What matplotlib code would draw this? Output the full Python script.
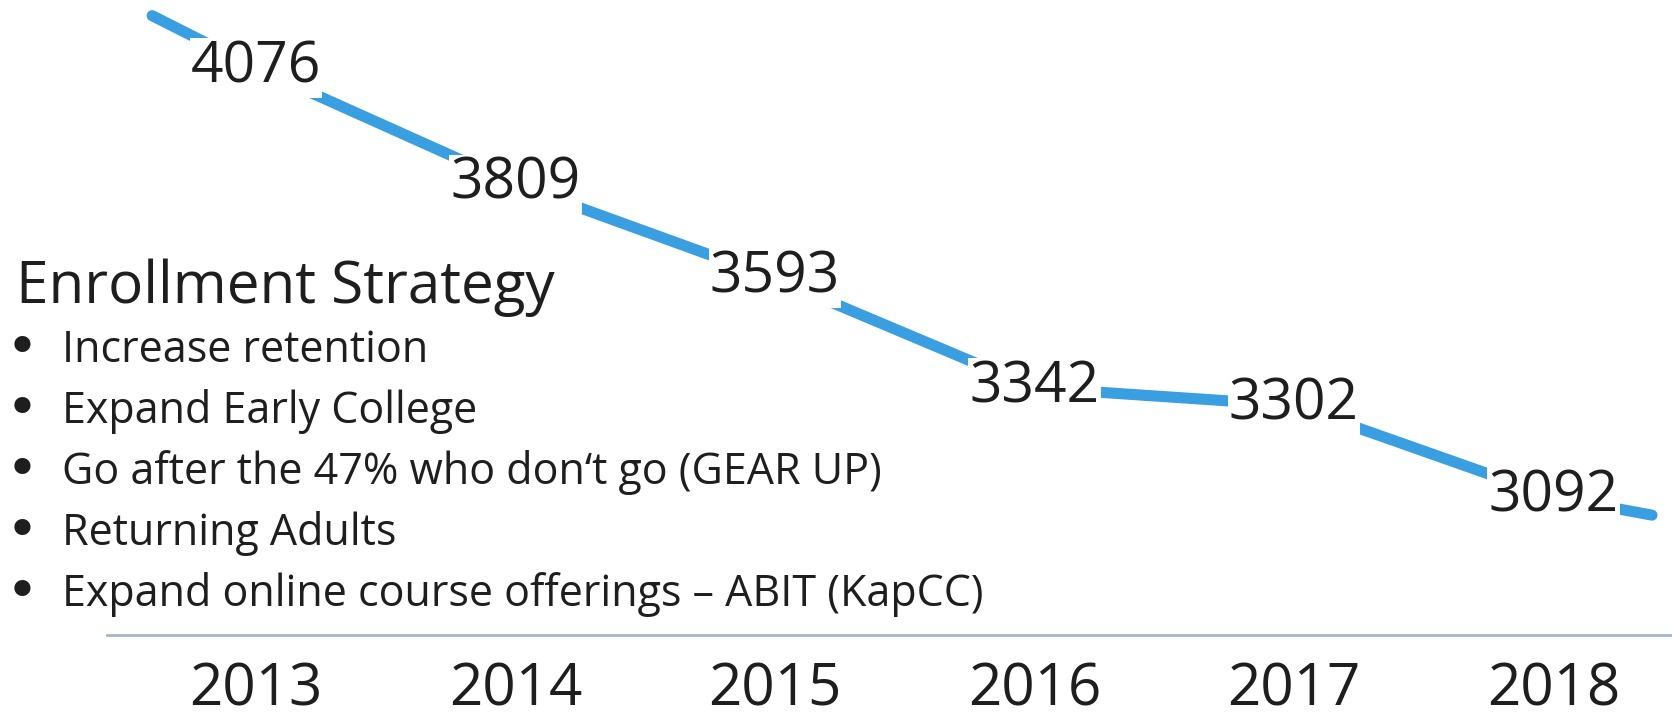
import matplotlib.pyplot as plt

# enrollment by year
years = [2013, 2014, 2015, 2016, 2017, 2018]
enrollment = [4076, 3809, 3593, 3342, 3302, 3092]
# the drawn line runs a little past the first and last year
lead_in = (2012.6, 4196)
lead_out = (2018.38, 3050)

title = 'Enrollment Strategy'
bullets = ['Increase retention',
           'Expand Early College',
           'Go after the 47% who don\u2018t go (GEAR UP)',
           'Returning Adults',
           'Expand online course offerings \u2013 ABIT (KapCC)']

plt.rcParams['font.family'] = ['Open Sans', 'DejaVu Sans']
ink = '#1e1e1e'
blue = '#3a9fe0'

fig = plt.figure(figsize=(16.72, 7.21), dpi=100)
ax = fig.add_axes([107 / 1672, 86 / 721, 1565 / 1672, 635 / 721])

line_x = [lead_in[0]] + years + [lead_out[0]]
line_y = [lead_in[1]] + enrollment + [lead_out[1]]
ax.plot(line_x, line_y, color=blue, lw=8, solid_capstyle='round',
        solid_joinstyle='round', zorder=2)

for yr, v in zip(years, enrollment):
    ax.text(yr, v, str(v), ha='center', va='center', fontsize=41, color=ink,
            bbox=dict(facecolor='white', edgecolor='none', pad=1), zorder=3)

ax.set_xlim(2012.426, 2018.457)
ax.set_ylim(2775, 4232)
ax.set_xticks(years)
ax.set_xticklabels([str(y) for y in years], fontsize=42, color=ink)
ax.tick_params(axis='x', length=0, pad=19)
ax.set_yticks([])
for s in ['top', 'left', 'right']:
    ax.spines[s].set_visible(False)
ax.spines['bottom'].set_color('#a3b6c9')
ax.spines['bottom'].set_linewidth(2)
ax.patch.set_alpha(0)

# text block on the left
fig.text(16 / 1672, 1 - 303 / 721, title, fontsize=42, color=ink, va='baseline')
for i, b in enumerate(bullets):
    yb = 1 - (362 + 61 * i) / 721
    fig.text(22 / 1672, yb + 12 / 721, '\u2022', family='DejaVu Sans', fontsize=40,
             color=ink, ha='center', va='center')
    fig.text(62 / 1672, yb, b, fontsize=31, color=ink, va='baseline')

fig.savefig('out.png', dpi=100, facecolor='white')
